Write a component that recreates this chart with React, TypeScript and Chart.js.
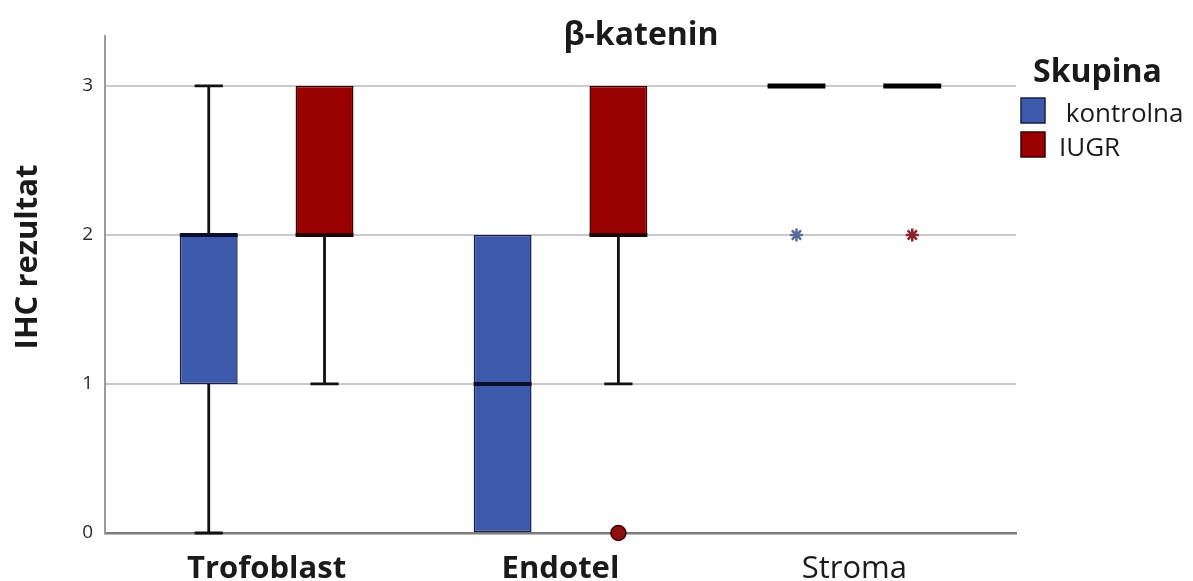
import React, { useEffect, useRef } from "react";
import { Chart, registerables } from "chart.js";

Chart.register(...registerables);

// ---------- data ----------
const TITLE = "β-katenin";
const Y_TITLE = "IHC rezultat";
const LEGEND_TITLE = "Skupina";
const CATEGORIES = ["Trofoblast", "Endotel", "Stroma"];
const GROUPS = ["kontrolna", "IUGR"];
const Y_TICKS = [0, 1, 2, 3];

// box-plot statistics, one value per category
const KONTROLNA_MIN = [0, 0, 3];
const KONTROLNA_Q1 = [1, 0, 3];
const KONTROLNA_MEDIAN = [2, 1, 3];
const KONTROLNA_Q3 = [2, 2, 3];
const KONTROLNA_MAX = [3, 2, 3];

const IUGR_MIN = [1, 1, 3];
const IUGR_Q1 = [2, 2, 3];
const IUGR_MEDIAN = [2, 2, 3];
const IUGR_Q3 = [3, 3, 3];
const IUGR_MAX = [3, 3, 3];

// outliers: circle = outlier, star = extreme (SPSS style)
const KONTROLNA_OUTLIERS = [{ category: 2, value: 2, kind: "extreme" }];
const IUGR_OUTLIERS = [
  { category: 1, value: 0, kind: "outlier" },
  { category: 2, value: 2, kind: "extreme" },
];

// ---------- styles ----------
const FONT = '"Open Sans", "DejaVu Sans", sans-serif';
const GROUP_OFFSET = 0.197; // in category units
const CAP_HALF = 0.048; // whisker cap half width, category units
const Y_MAX = 3.335;
const STYLE = [
  { fill: "#3d59ab", border: "#16204a", median: "#0a0f2e", point: "#5a6d99" },
  { fill: "#990000", border: "#330000", median: "#240000", point: "#8a2230" },
];

const SERIES = [
  {
    label: GROUPS[0],
    min: KONTROLNA_MIN,
    q1: KONTROLNA_Q1,
    median: KONTROLNA_MEDIAN,
    q3: KONTROLNA_Q3,
    max: KONTROLNA_MAX,
    outliers: KONTROLNA_OUTLIERS,
    sign: -1,
  },
  {
    label: GROUPS[1],
    min: IUGR_MIN,
    q1: IUGR_Q1,
    median: IUGR_MEDIAN,
    q3: IUGR_Q3,
    max: IUGR_MAX,
    outliers: IUGR_OUTLIERS,
    sign: 1,
  },
];

const boxExtras = {
  id: "boxExtras",
  afterDatasetsDraw(chart: any) {
    const { ctx } = chart;
    const xs = chart.scales.x;
    const ys = chart.scales.y;
    SERIES.forEach((s, d) => {
      const meta = chart.getDatasetMeta(d);
      meta.data.forEach((bar: any, i: number) => {
        const { x: cx, width } = bar.getProps(["x", "width"], true);
        const capHalf = xs.getPixelForValue(CAP_HALF) - xs.getPixelForValue(0);
        ctx.save();
        ctx.strokeStyle = "#111";
        ctx.lineWidth = 2.8;
        ctx.lineCap = "butt";
        // upper whisker
        if (s.max[i] > s.q3[i]) {
          const yTop = ys.getPixelForValue(s.max[i]);
          const yQ3 = ys.getPixelForValue(s.q3[i]);
          ctx.beginPath();
          ctx.moveTo(cx, yQ3);
          ctx.lineTo(cx, yTop);
          ctx.moveTo(cx - capHalf, yTop);
          ctx.lineTo(cx + capHalf, yTop);
          ctx.stroke();
        }
        // lower whisker
        if (s.min[i] < s.q1[i]) {
          const yBot = ys.getPixelForValue(s.min[i]);
          const yQ1 = ys.getPixelForValue(s.q1[i]);
          ctx.beginPath();
          ctx.moveTo(cx, yQ1);
          ctx.lineTo(cx, yBot);
          ctx.moveTo(cx - capHalf, yBot);
          ctx.lineTo(cx + capHalf, yBot);
          ctx.stroke();
        }
        // median
        const yMed = ys.getPixelForValue(s.median[i]);
        const flat = s.q1[i] === s.q3[i];
        ctx.strokeStyle = flat ? "#000" : STYLE[d].median;
        ctx.lineWidth = flat ? 5 : 4;
        ctx.beginPath();
        ctx.moveTo(cx - width / 2, yMed);
        ctx.lineTo(cx + width / 2, yMed);
        ctx.stroke();
        ctx.restore();
      });
    });
  },
  afterDraw(chart: any) {
    const { ctx, chartArea } = chart;
    ctx.save();
    // title
    ctx.fillStyle = "#1a1a1a";
    ctx.font = `bold 32px ${FONT}`;
    ctx.textAlign = "center";
    ctx.textBaseline = "alphabetic";
    ctx.fillText(TITLE, 641, 45);

    // y axis title
    ctx.save();
    ctx.translate(37, 257);
    ctx.rotate(-Math.PI / 2);
    ctx.font = `bold 31px ${FONT}`;
    ctx.textAlign = "center";
    ctx.fillText(Y_TITLE, 0, 0);
    ctx.restore();

    // legend
    const lx = chartArea.right + 5;
    ctx.textAlign = "left";
    ctx.font = `bold 32px ${FONT}`;
    ctx.fillText(LEGEND_TITLE, lx + 12, 82);
    ctx.font = `26px ${FONT}`;
    SERIES.forEach((s, d) => {
      const top = 98 + d * 34;
      ctx.fillStyle = STYLE[d].fill;
      ctx.fillRect(lx, top, 24, 25);
      ctx.strokeStyle = STYLE[d].border;
      ctx.lineWidth = 1.5;
      ctx.strokeRect(lx, top, 24, 25);
      ctx.fillStyle = "#1a1a1a";
      ctx.fillText(d === 0 ? " " + s.label : s.label, lx + 38, top + 24);
    });
    ctx.restore();
  },
};

export default function App() {
  const canvasRef = useRef<HTMLCanvasElement | null>(null);

  useEffect(() => {
    document.body.style.margin = "0";
    const canvas = canvasRef.current;
    if (!canvas) return;

    const barDatasets = SERIES.map((s, d) => ({
      type: "bar" as const,
      label: s.label,
      data: CATEGORIES.map((_, i) => ({
        x: i + s.sign * GROUP_OFFSET,
        y: [s.q1[i], s.q3[i]],
      })),
      backgroundColor: STYLE[d].fill,
      borderColor: STYLE[d].border,
      borderWidth: 1.5,
      borderSkipped: false as const,
      grouped: false,
      barPercentage: 0.5,
      categoryPercentage: 1,
    }));

    const outlierDatasets = SERIES.map((s, d) => ({
      type: "scatter" as const,
      label: s.label + " outliers",
      data: s.outliers.map((o) => ({
        x: o.category + s.sign * GROUP_OFFSET,
        y: o.value,
      })),
      pointStyle: s.outliers.map((o) => (o.kind === "outlier" ? "circle" : "star")),
      pointRadius: s.outliers.map((o) => (o.kind === "outlier" ? 7.5 : 6.5)),
      pointBorderWidth: s.outliers.map((o) => (o.kind === "outlier" ? 1.5 : 2.5)),
      backgroundColor: d === 1 ? "#8b1010" : STYLE[d].point,
      borderColor: s.outliers.map((o) => (o.kind === "outlier" ? "#3a0000" : STYLE[d].point)),
      clip: false as const,
    }));

    const chart = new Chart(canvas, {
      type: "bar",
      data: { datasets: [...barDatasets, ...outlierDatasets] as any },
      options: {
        animation: false,
        responsive: true,
        maintainAspectRatio: false,
        layout: { padding: { top: 36, right: 177, left: 0, bottom: 0 } },
        plugins: {
          legend: { display: false },
          title: { display: false },
          tooltip: { enabled: false },
        },
        scales: {
          x: {
            type: "linear",
            offset: false,
            min: -0.55,
            max: 2.55,
            afterBuildTicks: (scale: any) => {
              scale.ticks = CATEGORIES.map((_, i) => ({ value: i }));
            },
            afterFit: (scale: any) => {
              scale.height = 48;
            },
            grid: { display: false, drawTicks: false, tickLength: 0, offset: false },
            border: { display: true, color: "#7a7a7a", width: 2.5 },
            ticks: {
              padding: 18,
              autoSkip: false,
              maxRotation: 0,
              color: "#1a1a1a",
              callback: (v: any) => CATEGORIES[Math.round(Number(v))] ?? "",
              font: (c: any) => ({
                family: FONT,
                size: 31,
                weight: c.index < 2 ? "bold" : "normal",
              }),
            },
          },
          y: {
            type: "linear",
            min: 0,
            max: Y_MAX,
            afterBuildTicks: (scale: any) => {
              scale.ticks = Y_TICKS.map((v) => ({ value: v }));
            },
            afterFit: (scale: any) => {
              scale.width = 105;
            },
            grid: {
              drawTicks: false,
              tickLength: 0,
              lineWidth: 2,
              color: (c: any) => (c.tick && c.tick.value === 0 ? "rgba(0,0,0,0)" : "#c9c9c9"),
            },
            border: { display: true, color: "#9a9a9a", width: 2 },
            ticks: {
              padding: 12,
              color: "#2a2a2a",
              font: { family: FONT, size: 19 },
              callback: (v: any) => String(v),
            },
          },
        },
      },
      plugins: [boxExtras],
    });

    return () => chart.destroy();
  }, []);

  return (
    <div style={{ position: "absolute", left: 0, top: 0, width: 1193, height: 581 }}>
      <canvas ref={canvasRef} />
    </div>
  );
}
